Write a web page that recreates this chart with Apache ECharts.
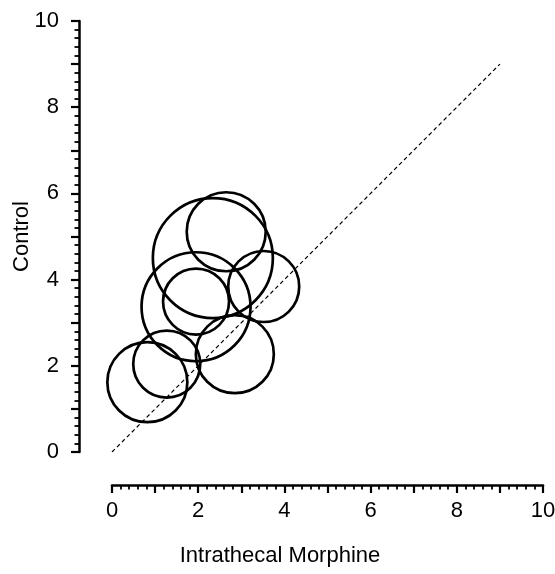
<!DOCTYPE html>
<html>
<head>
<meta charset="utf-8">
<script src="https://cdn.jsdelivr.net/npm/echarts@6/dist/echarts.min.js"></script>
<style>
  html, body { margin: 0; padding: 0; background: #fff; }
  #chart { width: 555px; height: 574px; }
</style>
</head>
<body>
<div id="chart"></div>
<script>
// bubble centres (Intrathecal Morphine vs Control) and drawn diameters
const morphine = [0.82, 1.27, 1.95, 1.95, 2.34, 2.65, 3.52, 2.85]
const control = [1.62, 2.04, 3.37, 3.49, 4.50, 5.11, 3.84, 2.27]
const bubbleSize = [80, 67, 109, 66, 120, 79, 71, 78]
// line of identity
const identityLine = [[0, 0], [9, 9]]
const axisTicks = [0, 2, 4, 6, 8, 10]

const font = "'Liberation Sans', Arial, sans-serif"
const fontSize = 22

const axisCommon = {
  type: 'value',
  min: 0,
  max: 10,
  interval: 1,
  offset: 33,
  nameLocation: 'middle',
  nameMoveOverlap: false,
  axisLine: { show: true, onZero: false, lineStyle: { color: '#000', width: 2.5 } },
  axisTick: { show: true, length: 8, lineStyle: { color: '#000', width: 2.2 } },
  minorTick: { show: true, splitNumber: 5, length: 4.5, lineStyle: { color: '#000', width: 1.8 } },
  splitLine: { show: false },
  axisLabel: {
    color: '#000',
    fontFamily: font,
    fontSize: fontSize,
    formatter: v => axisTicks.indexOf(v) >= 0 ? String(v) : ''
  }
}

const chart = echarts.init(document.getElementById('chart'))
chart.setOption({
  animation: false,
  grid: { left: 112, right: 12, top: 21, bottom: 122, containLabel: false, outerBoundsMode: 'none' },
  xAxis: Object.assign({}, axisCommon, {
    name: 'Intrathecal Morphine',
    nameGap: 60,
    nameTextStyle: { color: '#000', fontFamily: font, fontSize: fontSize, padding: [0, 95, 0, 0] },
    axisLabel: Object.assign({}, axisCommon.axisLabel, { margin: 15 })
  }),
  yAxis: Object.assign({}, axisCommon, {
    name: 'Control',
    nameGap: 46,
    nameTextStyle: { color: '#000', fontFamily: font, fontSize: fontSize },
    axisLabel: Object.assign({}, axisCommon.axisLabel, { margin: 20 })
  }),
  series: [
    {
      type: 'line',
      data: identityLine,
      symbol: 'none',
      silent: true,
      lineStyle: { color: '#000', width: 1.2, type: [4, 3] }
    },
    {
      type: 'scatter',
      data: morphine.map((x, i) => [x, control[i], bubbleSize[i]]),
      symbol: 'circle',
      symbolSize: d => d[2],
      itemStyle: { color: 'rgba(0,0,0,0)', borderColor: '#000', borderWidth: 2.7, opacity: 1 }
    }
  ]
})
</script>
</body>
</html>
